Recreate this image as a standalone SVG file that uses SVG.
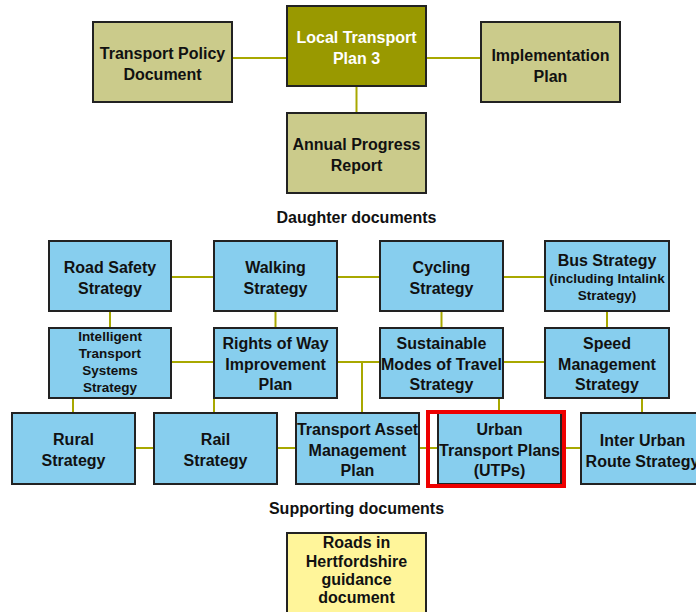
<svg xmlns="http://www.w3.org/2000/svg" width="696" height="612" viewBox="0 0 696 612">
<style>
text{font-family:"Liberation Sans",Arial,sans-serif;font-weight:bold;font-size:16px;fill:#111;text-anchor:middle}
.sm{font-size:13.5px}
.w{fill:#fff}
.box{stroke:#222;stroke-width:2}
.olive{fill:#CBCB8B}
.dark{fill:#999900}
.blue{fill:#87CEEE}
.yel{fill:#FFF59A}
.conn line{stroke:#A8A800;stroke-width:2}
</style>
<rect width="696" height="612" fill="#fff"/>
<g class="conn">
<line x1="233" y1="58" x2="286" y2="58"/>
<line x1="427" y1="58" x2="480" y2="58"/>
<line x1="356.5" y1="87" x2="356.5" y2="112"/>
<line x1="172" y1="277" x2="213" y2="277"/>
<line x1="338" y1="277" x2="379" y2="277"/>
<line x1="504" y1="277" x2="544" y2="277"/>
<line x1="110" y1="312" x2="110" y2="327"/>
<line x1="275.5" y1="312" x2="275.5" y2="327"/>
<line x1="441.5" y1="312" x2="441.5" y2="327"/>
<line x1="607" y1="312" x2="607" y2="327"/>
<line x1="172" y1="362" x2="213" y2="362"/>
<line x1="338" y1="362" x2="379" y2="362"/>
<line x1="504" y1="362" x2="544" y2="362"/>
<line x1="362" y1="362" x2="362" y2="412"/>
<line x1="73" y1="399" x2="73" y2="412"/>
<line x1="214" y1="399" x2="214" y2="412"/>
<line x1="499" y1="399" x2="499" y2="412"/>
<line x1="642" y1="399" x2="642" y2="412"/>
<line x1="136" y1="448" x2="153" y2="448"/>
<line x1="278" y1="448" x2="295" y2="448"/>
<line x1="420" y1="448" x2="437" y2="448"/>
<line x1="562" y1="448" x2="580" y2="448"/>
</g>
<g id="tpd"><rect class="box olive" x="93" y="22" width="139" height="80"/><text x="162.5" y="59">Transport Policy</text><text x="162.5" y="80">Document</text></g>
<g id="ltp3"><rect class="box dark" x="287" y="6" width="139" height="80"/><text class="w" x="356.5" y="43">Local Transport</text><text class="w" x="356.5" y="64">Plan 3</text></g>
<g id="apr"><rect class="box olive" x="287" y="113" width="139" height="80"/><text x="356.5" y="150">Annual Progress</text><text x="356.5" y="171">Report</text></g>
<g id="ip"><rect class="box olive" x="481" y="22" width="139" height="80"/><text x="550.5" y="61">Implementation</text><text x="550.5" y="82">Plan</text></g>
<text x="356.5" y="223">Daughter documents</text>
<g id="roadsafety"><rect class="box blue" x="49" y="241" width="122" height="70"/><text x="110" y="273">Road Safety</text><text x="110" y="294">Strategy</text></g>
<g id="walking"><rect class="box blue" x="214" y="241" width="123" height="70"/><text x="275.5" y="273">Walking</text><text x="275.5" y="294">Strategy</text></g>
<g id="cycling"><rect class="box blue" x="380" y="241" width="123" height="70"/><text x="441.5" y="273">Cycling</text><text x="441.5" y="294">Strategy</text></g>
<g id="bus"><rect class="box blue" x="545" y="241" width="124" height="70"/><text x="607" y="266">Bus Strategy</text><text class="sm" x="607" y="283">(including Intalink</text><text class="sm" x="607" y="300">Strategy)</text></g>
<g id="its"><rect class="box blue" x="49" y="328" width="122" height="70"/><text class="sm" x="110" y="341">Intelligent</text><text class="sm" x="110" y="358">Transport</text><text class="sm" x="110" y="375">Systems</text><text class="sm" x="110" y="392">Strategy</text></g>
<g id="row"><rect class="box blue" x="214" y="328" width="123" height="70"/><text x="275.5" y="349">Rights of Way</text><text x="275.5" y="370">Improvement</text><text x="275.5" y="390">Plan</text></g>
<g id="smt"><rect class="box blue" x="380" y="328" width="123" height="70"/><text x="441.5" y="349">Sustainable</text><text x="441.5" y="370">Modes of Travel</text><text x="441.5" y="390">Strategy</text></g>
<g id="speed"><rect class="box blue" x="545" y="328" width="124" height="70"/><text x="607" y="349">Speed</text><text x="607" y="370">Management</text><text x="607" y="390">Strategy</text></g>
<g id="rural"><rect class="box blue" x="12" y="413" width="123" height="71"/><text x="73.5" y="445">Rural</text><text x="73.5" y="466">Strategy</text></g>
<g id="rail"><rect class="box blue" x="154" y="413" width="123" height="71"/><text x="215.5" y="445">Rail</text><text x="215.5" y="466">Strategy</text></g>
<g id="tam"><rect class="box blue" x="296" y="413" width="123" height="71"/><text x="357.5" y="435">Transport Asset</text><text x="357.5" y="456">Management</text><text x="357.5" y="476">Plan</text></g>
<g id="utp"><rect class="box blue" x="438" y="413" width="123" height="71"/><text x="499.5" y="435">Urban</text><text x="499.5" y="456">Transport Plans</text><text x="499.5" y="476">(UTPs)</text><rect x="428" y="412" width="136" height="74" fill="none" stroke="#EE0000" stroke-width="4"/></g>
<g id="interurban"><rect class="box blue" x="581" y="413" width="123" height="71"/><text x="642.5" y="446">Inter Urban</text><text x="642.5" y="467">Route Strategy</text></g>
<text x="356.5" y="514">Supporting documents</text>
<g id="roads"><rect class="box yel" x="287" y="533" width="139" height="90"/><text x="356.5" y="548">Roads in</text><text x="356.5" y="567">Hertfordshire</text><text x="356.5" y="585">guidance</text><text x="356.5" y="603">document</text></g>
</svg>
